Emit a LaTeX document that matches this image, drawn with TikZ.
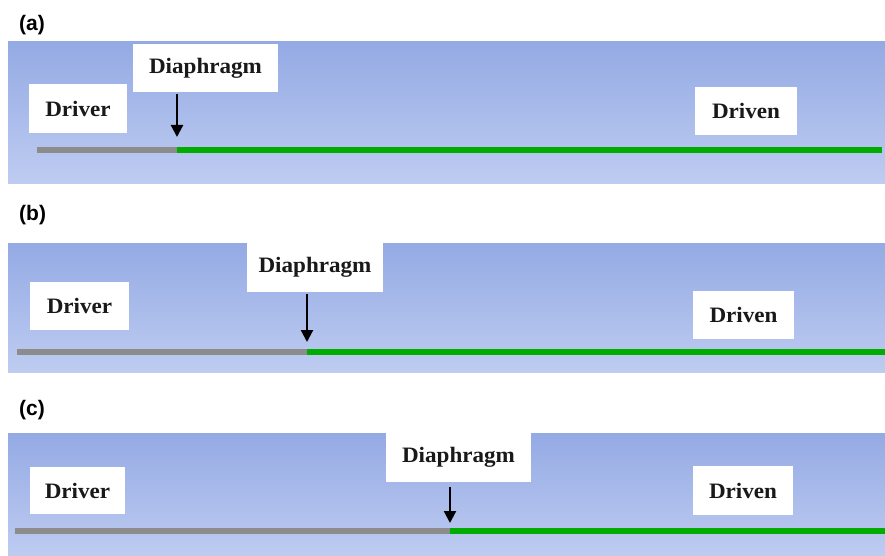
\documentclass[tikz,border=0pt]{standalone}
\usepackage{fontspec}
\setmainfont{Liberation Serif}
\newfontfamily\panelfont{Liberation Sans}
\usetikzlibrary{arrows.meta}
\definecolor{bandtop}{RGB}{148,170,228}
\definecolor{bandbot}{RGB}{190,204,241}
\definecolor{gasgreen}{RGB}{0,172,0}
\definecolor{tubegray}{RGB}{140,140,140}
\definecolor{inkc}{RGB}{25,25,25}
\tikzset{
  band/.style={top color=bandtop, bottom color=bandbot, draw=none},
  tag/.style={fill=white, inner sep=0pt, text=inkc,
    font=\fontsize{22}{22}\selectfont\bfseries},
  panel/.style={font=\panelfont\fontsize{21}{21}\selectfont\bfseries,
    anchor=west, inner sep=0pt},
  driverpart/.style={draw=tubegray, line width=6pt},
  drivenpart/.style={draw=gasgreen, line width=6pt},
  pointer/.style={draw=black, line width=2.2pt,
    -{Triangle[width=12pt,length=12pt]}}
}
\newcommand{\wide}[1]{\scalebox{1.05}[1]{#1}}
\begin{document}
\begin{tikzpicture}[x=1pt,y=-1pt]
\useasboundingbox (0,0) rectangle (885,556);
\fill[white] (0,0) rectangle (885,556);

% ---------- (a) ----------
\node[panel] (la) at (19,25) {(a)};
\fill[band] (8,42) rectangle (885,183);
\coordinate (sa) at (37,150);
\coordinate (ja) at (177,150);
\coordinate (ea) at (882,150);
\draw[driverpart] (sa) -- (ja);
\draw[drivenpart] (ja) -- (ea);
\node[tag, minimum width=98, minimum height=49] (drva) at (78,108.5) {\wide{Driver}};
\node[tag, minimum width=145, minimum height=48] (diaa) at (205.5,68) {\wide{Diaphragm}};
\node[tag, minimum width=102, minimum height=48] (dvna) at (746,111) {\wide{Driven}};
\draw[pointer] ([yshift=-2pt]ja |- diaa.south) -- ([yshift=13pt]ja);

% ---------- (b) ----------
\node[panel] (lb) at (19,215) {(b)};
\fill[band] (8,243) rectangle (885,372);
\coordinate (sb) at (17,352);
\coordinate (jb) at (307,352);
\coordinate (eb) at (885,352);
\draw[driverpart] (sb) -- (jb);
\draw[drivenpart] (jb) -- (eb);
\node[tag, minimum width=99, minimum height=48] (drvb) at (79.5,306) {\wide{Driver}};
\node[tag, minimum width=136, minimum height=49] (diab) at (315,267.5) {\wide{Diaphragm}};
\node[tag, minimum width=101, minimum height=48] (dvnb) at (743.5,315) {\wide{Driven}};
\draw[pointer] ([yshift=-2pt]jb |- diab.south) -- ([yshift=10pt]jb);

% ---------- (c) ----------
\node[panel] (lc) at (19,410) {(c)};
\fill[band] (8,433) rectangle (885,556);
\coordinate (sc) at (15,531);
\coordinate (jc) at (450,531);
\coordinate (ec) at (885,531);
\draw[driverpart] (sc) -- (jc);
\draw[drivenpart] (jc) -- (ec);
\node[tag, minimum width=95, minimum height=47] (drvc) at (77.5,490.5) {\wide{Driver}};
\node[tag, minimum width=145, minimum height=49] (diac) at (458.5,457.5) {\wide{Diaphragm}};
\node[tag, minimum width=100, minimum height=49] (dvnc) at (743,490.5) {\wide{Driven}};
\draw[pointer] ([yshift=-5pt]jc |- diac.south) -- ([yshift=8pt]jc);
\end{tikzpicture}
\end{document}
